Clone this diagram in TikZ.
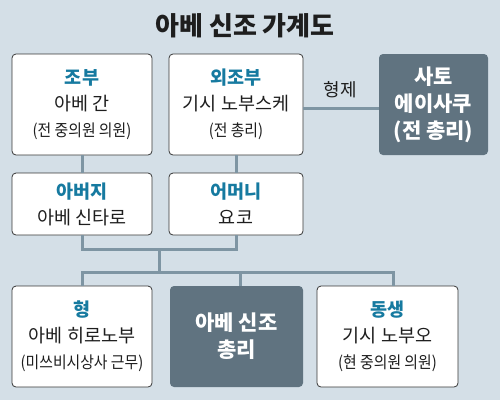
\documentclass[tikz,border=0pt]{standalone}
\usepackage{fontspec}
\setmainfont{Noto Sans CJK KR}
\newfontfamily\condfont[FakeStretch=0.9]{Noto Sans CJK KR}
\usetikzlibrary{calc}
\definecolor{bg}{RGB}{212,223,231}
\definecolor{linec}{RGB}{126,149,163}
\definecolor{darkbox}{RGB}{96,115,128}
\definecolor{lblc}{RGB}{22,122,160}
\definecolor{boxline}{RGB}{55,55,55}
\definecolor{txt}{RGB}{30,30,30}
\newcommand\lbl[1]{{\bfseries\color{lblc}#1}}
\newcommand\paren[1]{{\condfont\fontsize{16.5}{26}\selectfont #1}}
\begin{document}
\begin{tikzpicture}[x=1pt,y=-1pt,
  box/.style={draw=boxline, line width=0.8pt, fill=white, rounded corners=4pt,
    minimum width=140pt, minimum height=101pt, align=center, inner sep=0pt,
    text=txt, font=\fontsize{18.5}{26}\selectfont},
  shortbox/.style={box, minimum height=62pt},
  darkbox/.style={box, draw=none, fill=darkbox, text=white,
    font=\fontsize{21}{27}\selectfont\bfseries},
  conn/.style={draw=linec, line width=3pt},
]
\fill[bg] (0,0) rectangle (500,400);
\useasboundingbox (0,0) rectangle (500,400);

\node[font=\fontsize{26}{30}\selectfont\bfseries, text=txt] (title) at (245,26) {아베 신조 가계도};

\node[box, minimum width=140pt] (jobu) at (82,104.5) {\lbl{조부}\\아베 간\\\paren{(전 중의원 의원)}};
\node[box, minimum width=134pt] (oejobu) at (236,104.5) {\lbl{외조부}\\기시 노부스케\\\paren{(전 총리)}};
\node[darkbox, minimum width=109pt] (sato) at (433.5,104.5) {사토\\에이사쿠\\(전 총리)};

\node[shortbox, minimum width=140pt] (abeoji) at (82,204) {\lbl{아버지}\\아베 신타로};
\node[shortbox, minimum width=134pt] (eomeoni) at (236,204) {\lbl{어머니}\\요코};

\node[box, minimum width=140pt] (hyeong) at (82,336.5) {\lbl{형}\\아베 히로노부\\\paren{(미쓰비시상사 근무)}};
\node[darkbox, minimum width=133pt] (shinzo) at (236.5,336.5) {아베 신조\\총리};
\node[box, minimum width=141pt] (dongsaeng) at (387.5,336.5) {\lbl{동생}\\기시 노부오\\\paren{(현 중의원 의원)}};

\node[font=\fontsize{18}{20}\selectfont, text=txt] (hyeongje) at (340,90) {형제};

% connectors
\draw[conn] ([yshift=-3.5pt]oejobu.east) -- ([yshift=-3.5pt]sato.west);
\draw[conn] (jobu.south) -- (abeoji.north);
\draw[conn] (oejobu.south) -- (eomeoni.north);
\draw[conn] (abeoji.south) -- ++(0,14) -| (eomeoni.south);
\coordinate (mid) at ($(abeoji.south)!0.5!(eomeoni.south)+(0,14)$);
\coordinate (bar) at ($(mid)+(0,24)$);
\draw[conn] (mid) -- (bar);
\draw[conn] (hyeong.north) -- ++(0,-13) -| ([xshift=6pt]dongsaeng.north);
\draw[conn] ([xshift=4pt]shinzo.north) -- ++(0,-13);
\end{tikzpicture}
\end{document}
